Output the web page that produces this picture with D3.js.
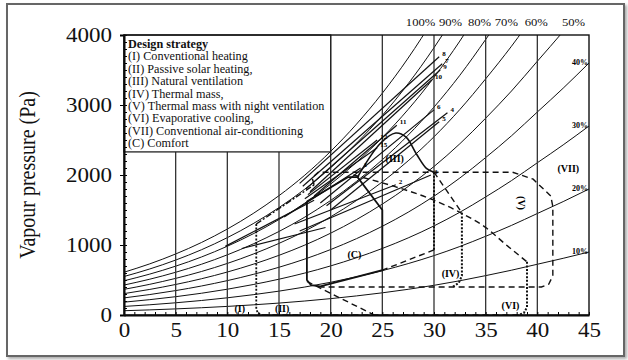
<!DOCTYPE html>
<html>
<head>
<meta charset="utf-8">
<script src="https://cdn.jsdelivr.net/npm/d3@7/dist/d3.min.js"></script>
<style>
  body { margin: 0; background: #fff; }
  svg { display: block; font-family: "Liberation Serif", "DejaVu Serif", serif; }
</style>
</head>
<body>
<svg id="chart" width="628" height="360"></svg>
<script>
// 100% RH curve (deg C -> Pa)
const tempGrid = [0, 2.5, 5, 7.5, 10, 12.5, 15, 17.5, 20, 22.5, 25, 27.5, 30, 32.5, 35, 37.5, 40, 42.5, 45];
const satPressure = [611, 731, 872, 1036, 1228, 1450, 1705, 1998, 2338, 2727, 3169, 3671, 4243, 4892, 5623, 6400, 7250, 8100, 9000];
const rhLevels = [100, 90, 80, 70, 60, 50, 40, 30, 20, 10];

const topRhLabels = ['100%', '90%', '80%', '70%', '60%', '50%'];
const topRhLabelT = [28.7, 31.6, 34.4, 37.0, 39.9, 43.5];
const sideRhLevels = [40, 30, 20, 10];

const xTicks = [0, 5, 10, 15, 20, 25, 30, 35, 40, 45];
const yTicks = [0, 1000, 2000, 3000, 4000];

const legendTitle = 'Design strategy';
const legendItems = [
  '(I) Conventional heating',
  '(II) Passive solar heating,',
  '(III) Natural ventilation',
  '(IV) Thermal mass,',
  '(V) Thermal mass with night ventilation',
  '(VI) Evaporative cooling,',
  '(VII) Conventional air-conditioning',
  '(C) Comfort'
];

// climate lines, [T, p] at the cool end and at the warm end
const climateLabels = ['8', '7', '9', '10', '6', '4', '5', '11', '12', '15', '1', '2', '3', '', ''];
const climateStart = [[17.0, 1880], [17.3, 1840], [17.6, 1800], [18.0, 1760], [19.0, 1600], [19.6, 1560], [20.0, 1500],
  [18.4, 1700], [17.8, 1720], [17.5, 1660], [15.5, 1400], [16.5, 1300], [17.0, 1200], [9.8, 980], [11.4, 950]];
const climateEnd = [[30.5, 3690], [30.8, 3590], [30.6, 3500], [29.8, 3360], [30.0, 2930], [31.3, 2890], [30.5, 2760],
  [26.4, 2710], [24.5, 2500], [24.5, 2390], [22.9, 2100], [26.3, 1860], [29.7, 2000], [18.4, 1640], [19.5, 1250]];

// zone boundaries
const comfortZone = [[17.7, 1620], [21.7, 1970], [22.6, 1970], [25, 1500], [25, 640], [19, 410], [18.1, 425], [17.7, 500], [17.7, 1620]];
const naturalVent = [[22.6, 1970], [24.8, 2450], [26.3, 2600], [27.3, 2540], [28.3, 2300], [29.3, 2090], [30, 2040]];
const nightVent = [[18.4, 1860], [18.2, 1960], [18.8, 2040], [37.6, 2040], [39.6, 1940], [41.3, 1700], [41.5, 1550],
  [41.5, 560], [41.1, 440], [40.4, 400], [19, 400]];
const thermalMassInner = [[30, 2040], [30, 930]];
const thermalMassBase = [[30, 930], [25, 640]];
const thermalMassDiag = [[30, 2040], [32.7, 1460]];
const thermalMassOuter = [[32.7, 1460], [32.7, 560], [32.4, 460], [31.8, 400]];
const evapUpper = [[22.2, 2000], [26.3, 1830], [30, 1640], [32.6, 1460], [35, 1250], [37, 1000], [39, 760]];
const evapOuter = [[39, 760], [39, 110], [38.7, 30], [38.2, 0]];
const evapLower = [[17.7, 480], [24.2, 0]];
const baseLine = [[13.4, 0], [38.2, 0]];
const heatingEdge = [[12.8, 1300], [12.8, 80], [13.0, 20], [13.4, 0]];
const solarTop = [[12.8, 1300], [18.4, 1860]];

const zoneLabels = ['(I)', '(II)', '(III)', '(IV)', '(V)', '(VI)', '(VII)', '(C)'];
const zoneLabelT = [11.2, 15.3, 26.2, 31.6, 38.5, 37.4, 43.0, 22.3];
const zoneLabelP = [100, 100, 2240, 600, 1600, 140, 2100, 870];

const svg = d3.select('#chart');
const x = d3.scaleLinear().domain([0, 45]).range([124, 589]);
const y = d3.scaleLinear().domain([0, 4000]).range([315, 35]);
const stretch = 1.15;

// outer frame with shadow
const defs = svg.append('defs');
const f = defs.append('filter').attr('id', 'shadow').attr('x', '-5%').attr('y', '-5%').attr('width', '110%').attr('height', '110%');
f.append('feDropShadow').attr('dx', 2).attr('dy', 2).attr('stdDeviation', 1.5).attr('flood-color', '#888').attr('flood-opacity', 0.7);
defs.append('clipPath').attr('id', 'plotClip').append('rect')
  .attr('x', x(0)).attr('y', y(4000)).attr('width', x(45) - x(0)).attr('height', y(0) - y(4000));

svg.append('rect').attr('x', 7).attr('y', 4).attr('width', 617).attr('height', 352)
  .attr('fill', '#fff').attr('stroke', '#666').attr('stroke-width', 2).attr('filter', 'url(#shadow)');

const line = d3.line().x(d => x(d[0])).y(d => y(d[1]));
const smooth = d3.line().x(d => x(d[0])).y(d => y(d[1])).curve(d3.curveMonotoneX);

// RH curves
const plot = svg.append('g').attr('clip-path', 'url(#plotClip)');
plot.selectAll('path.rh').data(rhLevels).join('path')
  .attr('class', 'rh')
  .attr('d', rh => smooth(tempGrid.map((t, i) => [t, satPressure[i] * rh / 100])))
  .attr('fill', 'none').attr('stroke', '#111').attr('stroke-width', 1);

// vertical grid lines
svg.append('g').selectAll('line').data(xTicks.slice(1, -1)).join('line')
  .attr('x1', d => x(d)).attr('x2', d => x(d)).attr('y1', y(0)).attr('y2', y(4000))
  .attr('stroke', '#333').attr('stroke-width', 1.3);

// legend box
const legend = svg.append('g');
legend.append('rect').attr('x', x(0)).attr('y', y(4000)).attr('width', x(20) - x(0)).attr('height', y(2330) - y(4000))
  .attr('fill', '#fff').attr('stroke', '#222').attr('stroke-width', 1.3);
legend.append('text').attr('transform', `translate(${x(0) + 4},48) scale(1.06,1)`)
  .attr('font-size', 11.5).attr('font-weight', 'bold').attr('fill', '#111').text(legendTitle);
legend.selectAll('text.item').data(legendItems).join('text')
  .attr('class', 'item')
  .attr('transform', (d, i) => `translate(${x(0) + 4},${48 + 12.4 * (i + 1)}) scale(1.06,1)`)
  .attr('font-size', 11.5).attr('fill', '#111').text(d => d);

// zones
const zones = svg.append('g').attr('fill', 'none').attr('stroke', '#111');
const dashed = '6,4', dotted = '2,1.6';
zones.append('path').attr('d', line(comfortZone)).attr('stroke-width', 1.8);
zones.append('path').attr('d', d3.line().x(d => x(d[0])).y(d => y(d[1])).curve(d3.curveCatmullRom)(naturalVent)).attr('stroke-width', 1.6);
zones.append('path').attr('d', line(nightVent)).attr('stroke-width', 1.4).attr('stroke-dasharray', dashed);
zones.append('path').attr('d', line(thermalMassInner)).attr('stroke-width', 2).attr('stroke-dasharray', dotted);
zones.append('path').attr('d', line(thermalMassBase)).attr('stroke-width', 1.4).attr('stroke-dasharray', dashed);
zones.append('path').attr('d', line(thermalMassDiag)).attr('stroke-width', 1.4).attr('stroke-dasharray', dashed);
zones.append('path').attr('d', line(thermalMassOuter)).attr('stroke-width', 2).attr('stroke-dasharray', dotted);
zones.append('path').attr('d', smooth(evapUpper)).attr('stroke-width', 1.4).attr('stroke-dasharray', dashed);
zones.append('path').attr('d', line(evapOuter)).attr('stroke-width', 2).attr('stroke-dasharray', dotted);
zones.append('path').attr('d', line(evapLower)).attr('stroke-width', 1.4).attr('stroke-dasharray', dashed);
zones.append('path').attr('d', line(baseLine)).attr('stroke-width', 1.6).attr('stroke-dasharray', dashed);
zones.append('path').attr('d', line(heatingEdge)).attr('stroke-width', 1.8).attr('stroke-dasharray', dotted);
zones.append('path').attr('d', line(solarTop)).attr('stroke-width', 1.4).attr('stroke-dasharray', '6,2,2,2');

// climate lines
svg.append('g').selectAll('line').data(climateStart).join('line')
  .attr('x1', d => x(d[0])).attr('y1', d => y(d[1]))
  .attr('x2', (d, i) => x(climateEnd[i][0])).attr('y2', (d, i) => y(climateEnd[i][1]))
  .attr('stroke', '#111').attr('stroke-width', 1.2);
svg.append('g').selectAll('text').data(climateLabels).join('text')
  .attr('x', (d, i) => x(climateEnd[i][0]) + 3).attr('y', (d, i) => y(climateEnd[i][1]) - 1)
  .attr('font-size', 7).attr('font-weight', 'bold').attr('fill', '#000').text(d => d);

// zone labels
svg.append('g').selectAll('text').data(zoneLabels).join('text')
  .attr('transform', (d, i) => `translate(${x(zoneLabelT[i])},${y(zoneLabelP[i])})` + (d === '(V)' ? ' rotate(90)' : ''))
  .attr('text-anchor', 'middle').attr('dy', '0.35em')
  .attr('font-size', 10).attr('font-weight', 'bold').attr('fill', '#000').text(d => d);

// RH labels
svg.append('g').selectAll('text').data(topRhLabels).join('text')
  .attr('transform', (d, i) => `translate(${x(topRhLabelT[i])},${y(4000) - 9}) scale(${stretch},1)`)
  .attr('text-anchor', 'middle').attr('font-size', 11).attr('fill', '#111').text(d => d);
svg.append('g').selectAll('text').data(sideRhLevels).join('text')
  .attr('x', x(45) - 1).attr('y', d => y(satPressure[satPressure.length - 1] * d / 100) + 2)
  .attr('text-anchor', 'end').attr('font-size', 8).attr('font-weight', 'bold').attr('fill', '#000').text(d => d + '%');

// axes
const yAxis = svg.append('g').attr('transform', `translate(${x(0)},0)`)
  .call(d3.axisLeft(y).tickValues(yTicks).tickFormat(d3.format('d')).tickSize(4).tickPadding(9));
yAxis.select('.domain').attr('stroke-width', 2);
yAxis.selectAll('text').attr('font-size', 20).attr('font-family', '"Liberation Serif", serif').attr('fill', '#111')
  .attr('x', -12 / stretch).attr('transform', `scale(${stretch},1)`);
svg.append('g').attr('transform', `translate(${x(0)},0)`)
  .call(d3.axisRight(y).tickValues(d3.range(0, 4001, 100)).tickSize(3).tickFormat(''))
  .select('.domain').remove();

const xAxis = svg.append('g').attr('transform', `translate(0,${y(0)})`)
  .call(d3.axisBottom(x).tickValues(xTicks).tickSize(0).tickPadding(8));
xAxis.select('.domain').attr('stroke-width', 2);
xAxis.selectAll('text').attr('font-size', 20).attr('font-family', '"Liberation Serif", serif').attr('fill', '#111')
  .attr('transform', `scale(${stretch},1)`).attr('x', 0);
svg.append('g').attr('transform', `translate(0,${y(0)})`)
  .call(d3.axisTop(x).tickValues(d3.range(0, 46, 1)).tickSize(3).tickFormat(''))
  .select('.domain').remove();

// plot frame
svg.append('rect').attr('x', x(0)).attr('y', y(4000)).attr('width', x(45) - x(0)).attr('height', y(0) - y(4000))
  .attr('fill', 'none').attr('stroke', '#111').attr('stroke-width', 1.4);

svg.append('text')
  .attr('transform', `translate(35,${(y(0) + y(4000)) / 2}) scale(${stretch},1) rotate(-90)`)
  .attr('text-anchor', 'middle').attr('font-size', 20).attr('fill', '#111')
  .text('Vapour pressure (Pa)');
</script>
</body>
</html>
